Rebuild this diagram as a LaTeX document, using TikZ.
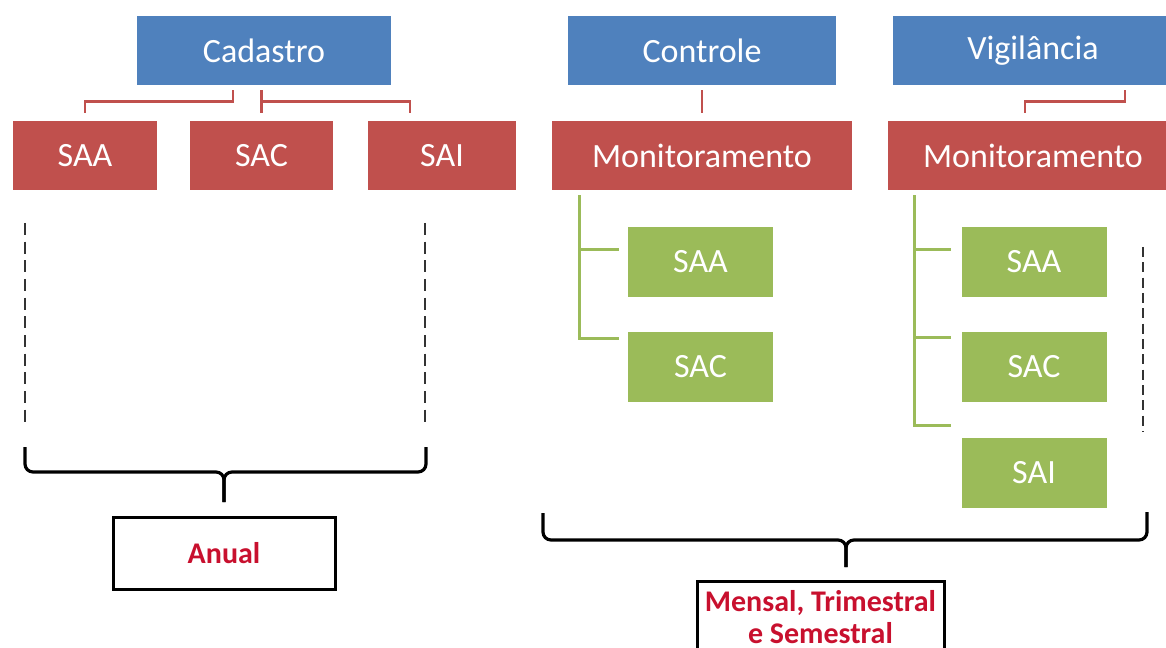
\documentclass[tikz,border=0pt]{standalone}
\usepackage{fontspec}
\setmainfont{Carlito}
\usepackage{tikz}
\usetikzlibrary{positioning}
\definecolor{topblue}{HTML}{4F81BD}
\definecolor{sysred}{HTML}{C0504D}
\definecolor{sysgreen}{HTML}{9BBB59}
\definecolor{periodred}{HTML}{C8102E}

\begin{document}
\begin{tikzpicture}[x=0.75pt,y=-0.75pt,
  box/.style={inner sep=0pt,minimum height=51.75pt,text=white,font=\fontsize{25.5}{30}\selectfont},
  head/.style={box,fill=topblue},
  sys/.style={box,fill=sysred},
  sub/.style={box,fill=sysgreen,minimum width=108.75pt,minimum height=52.5pt},
  redlink/.style={draw=sysred,line width=1.9pt},
  grnlink/.style={draw=sysgreen,line width=2.25pt},
  dashmark/.style={draw=black!80,line width=2pt,dash pattern=on 9pt off 5pt},
  bracket/.style={draw=black,line width=2.4pt,rounded corners=6pt,line join=round},
  period/.style={draw=black,line width=2.25pt,inner sep=0pt,minimum width=166.5pt,minimum height=54pt,
    text=periodred,align=center,font=\bfseries\fontsize{22.5}{24}\selectfont}]
  \useasboundingbox (0,0) rectangle (1166,648);
  \clip (0,0) rectangle (1166,648);
  % top row
  \node[head,minimum width=190.5pt] (cad) at (264,50.5) {Cadastro};
  \node[head,minimum width=201pt] (ctl) at (702,50.5) {Controle};
  \node[head,minimum width=210pt] (vig) at (1033,50.5) {Vigilância};
  % second row
  \node[sys,minimum width=108pt] (saa) at (85,155.5) {SAA};
  \node[sys,minimum width=107.25pt] (sac) at (261.5,155.5) {SAC};
  \node[sys,minimum width=111pt] (sai) at (442,155.5) {SAI};
  \node[sys,minimum width=225pt] (mon1) at (702,155.5) {Monitoramento};
  \node[sys,minimum width=217.5pt] (mon2) at (1033,155.5) {Monitoramento};
  % green systems
  \node[sub] (csaa) at (700.5,262) {SAA};
  \node[sub] (csac) at (700.5,367) {SAC};
  \node[sub] (vsaa) at (1034,262) {SAA};
  \node[sub] (vsac) at (1034,367) {SAC};
  \node[sub] (vsai) at (1034,473) {SAI};
  % red links
  \draw[redlink] ([xshift=-23.25pt,yshift=-3.75pt]cad.south) -- ++(0,11) -| ([yshift=6pt]saa.north);
  \draw[redlink] ([yshift=-3.75pt]sac.north |- cad.south) -- ([yshift=6pt]sac.north);
  \draw[redlink] ([yshift=-12pt]sac.north |- cad.south) -| ([xshift=-24pt,yshift=6pt]sai.north);
  \draw[redlink] ([yshift=-3.75pt]ctl.south) -- ([yshift=6pt]mon1.north);
  \draw[redlink] ([xshift=69pt,yshift=-3.75pt]vig.south) -- ++(0,11) -| ([xshift=-6pt,yshift=6pt]mon2.north);
  % green trees
  \coordinate (trunk1) at ([xshift=21pt,yshift=-3.75pt]mon1.south west);
  \foreach \n/\dy in {csaa/-17.25pt,csac/-5.25pt}
    \draw[grnlink] (trunk1) |- ([xshift=-6.75pt,yshift=\dy]\n.north west);
  \coordinate (trunk2) at ([xshift=20.25pt,yshift=-3.75pt]mon2.south west);
  \foreach \n/\dy in {vsaa/-17.25pt,vsac/-4.5pt,vsai/9pt}
    \draw[grnlink] (trunk2) |- ([xshift=-7.5pt,yshift=\dy]\n.north west);
  % dashed marks
  \foreach \x in {25,425}
    \draw[dashmark] (\x,223) -- (\x,425);
  \draw[dashmark,dash pattern=on 7.5pt off 4pt] (1143,247) -- (1143,432);
  % braces
  \draw[bracket] (25,447) -- (25,472) -- (224,472) -- (224,502);
  \draw[bracket] (426,447) -- (426,472) -- (224,472) -- (224,502);
  \draw[bracket] (543,513) -- (543,540) -- (846,540) -- (846,567);
  \draw[bracket] (1147,512) -- (1147,540) -- (846,540) -- (846,567);
  % periods
  \node[period] (anual) at (224,553) {Anual};
  \node[period,minimum width=185.25pt] (mensal) at (820.5,617) {Mensal, Trimestral\\e Semestral};
\end{tikzpicture}
\end{document}
